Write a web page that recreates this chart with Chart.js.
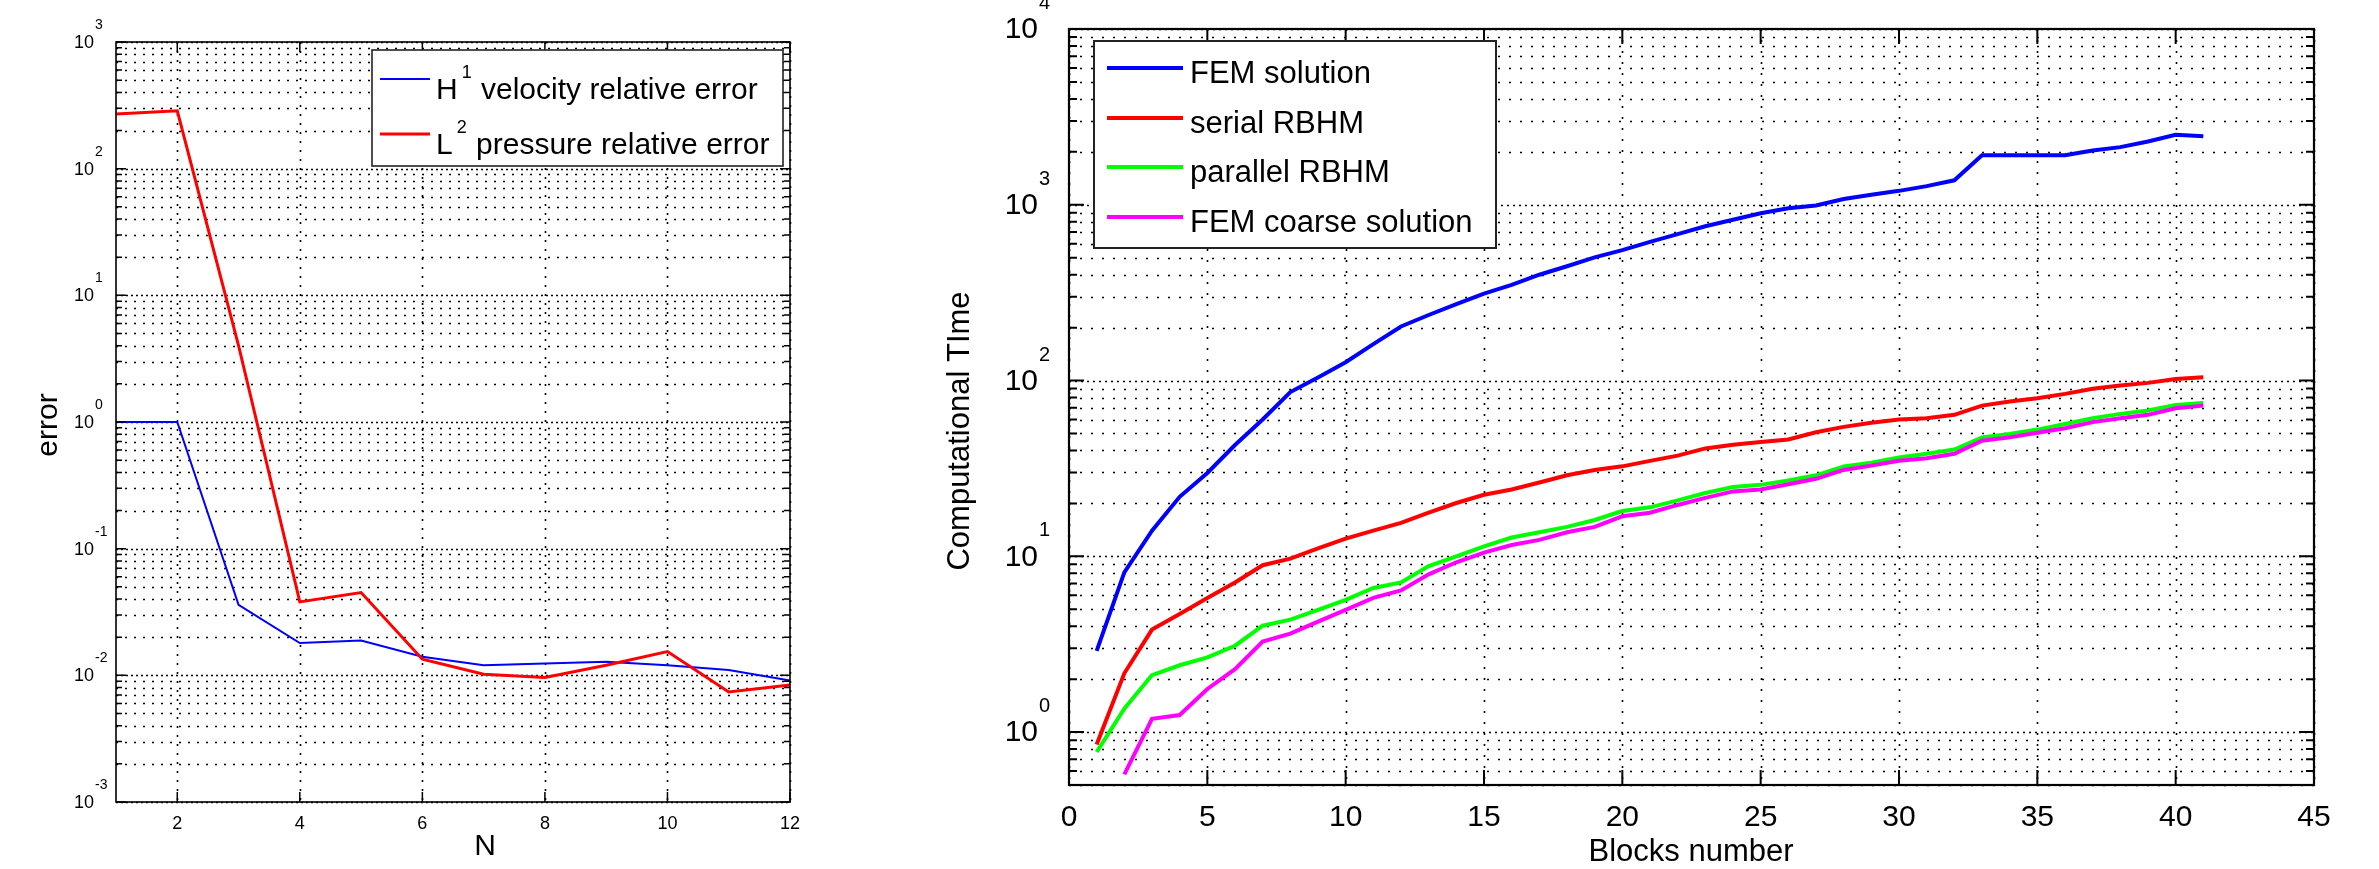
<!DOCTYPE html>
<html>
<head>
<meta charset="utf-8">
<script src="https://cdn.jsdelivr.net/npm/chart.js@4"></script>
<style>
  html, body { margin: 0; padding: 0; background: #fff; }
  body { width: 2379px; height: 869px; position: relative; overflow: hidden; }
  #errChart { position: absolute; left: 0; top: 0; }
  #timeChart { position: absolute; left: 880px; top: 0; }
</style>
</head>
<body>
<canvas id="errChart" width="860" height="869" style="width:860px;height:869px"></canvas>
<canvas id="timeChart" width="1499" height="869" style="width:1499px;height:869px"></canvas>
<script>
// grafica izquierda: error frente a N
const nValues = [1, 2, 3, 4, 5, 6, 7, 8, 9, 10, 11, 12];
const velocityError = [1.0, 1.0, 0.036, 0.018, 0.0188, 0.014, 0.012, 0.0124, 0.0128, 0.012, 0.011, 0.0091];
const pressureError = [270, 286, 4.0, 0.038, 0.045, 0.0134, 0.0102, 0.0096, 0.012, 0.0154, 0.0074, 0.0084];
const nTicks = [2, 4, 6, 8, 10, 12];
const errExponents = [-3, -2, -1, 0, 1, 2, 3];
const errLegend = [['H', '1', 'velocity relative error'], ['L', '2', 'pressure relative error']];

// grafica derecha: tiempo de calculo frente a numero de bloques
const blocks = [1, 2, 3, 4, 5, 6, 7, 8, 9, 10, 11, 12, 13, 14, 15, 16, 17, 18, 19, 20,
  21, 22, 23, 24, 25, 26, 27, 28, 29, 30, 31, 32, 33, 34, 35, 36, 37, 38, 39, 40, 41];
const femTime = [2.9, 8.1, 14, 21.8, 29.8, 43, 60, 86, 104, 127, 161, 203, 236, 272, 312, 350, 400, 447, 502, 552,
  615, 681, 755, 822, 894, 955, 991, 1079, 1140, 1200, 1277, 1378, 1910, 1910, 1910, 1915, 2037, 2128, 2293, 2500, 2450];
const serialTime = [0.85, 2.16, 3.83, 4.7, 5.8, 7.1, 8.9, 9.7, 11.1, 12.6, 14.0, 15.5, 17.7, 20.1, 22.4, 24, 26.3, 28.9, 31, 32.5,
  34.9, 37.4, 41.1, 43.1, 44.7, 46.2, 50.8, 54.5, 57.6, 60, 61, 63.8, 72, 75.9, 79.4, 84, 89.7, 93.7, 97, 102, 104.5];
const parallelTime = [0.77, 1.36, 2.11, 2.4, 2.66, 3.1, 4.03, 4.36, 4.96, 5.65, 6.6, 7.1, 8.8, 10.0, 11.4, 12.8, 13.7, 14.7, 16.1, 18.1,
  19, 20.8, 22.9, 24.8, 25.5, 27, 28.9, 32.5, 34.1, 36.5, 38.3, 40.5, 47.5, 49.7, 52.6, 56.6, 61, 64.6, 67.5, 72.6, 74.6];
const coarseTime = [null, 0.575, 1.19, 1.25, 1.76, 2.28, 3.27, 3.63, 4.25, 4.96, 5.8, 6.4, 7.9, 9.25, 10.5, 11.6, 12.4, 13.7, 14.7, 16.9,
  17.7, 19.6, 21.5, 23.4, 24, 25.7, 27.6, 31, 32.8, 35, 36.1, 38.3, 45.5, 47.5, 50.4, 53.5, 58, 61, 63.8, 69.5, 72];
const blockTicks = [0, 5, 10, 15, 20, 25, 30, 35, 40, 45];
const timeExponents = [0, 1, 2, 3, 4];
const timeLegend = ['FEM solution', 'serial RBHM', 'parallel RBHM', 'FEM coarse solution'];

const FONT = "'Liberation Sans', Arial, sans-serif";

function toPoints(xs, ys) {
  return xs.map((x, i) => ({ x: x, y: ys[i] }));
}

// ticks 1..9 x 10^e dentro del rango del eje
function logTicks(exps, min, max) {
  const out = [];
  for (let e = exps[0] - 1; e <= exps[exps.length - 1]; e++) {
    for (let m = 1; m <= 9; m++) {
      const v = m * Math.pow(10, e);
      if (v >= min * 0.999 && v <= max * 1.001) out.push({ value: v, major: m === 1, exp: e });
    }
  }
  return out;
}

// ejes estilo matlab: rejilla punteada, caja, ticks hacia dentro, etiquetas 10^n
const matlabAxes = {
  id: 'matlabAxes',
  beforeDatasetsDraw(chart, args, o) {
    const { ctx, chartArea: a, scales: { x, y } } = chart;
    ctx.save();
    ctx.strokeStyle = '#000';
    ctx.lineWidth = 1.6;
    logTicks(o.yExps, y.min, y.max).forEach((t) => {
      const py = Math.round(y.getPixelForValue(t.value)) + 0.5;
      ctx.setLineDash(t.major ? o.majorDash : o.dash);
      ctx.beginPath();
      ctx.moveTo(a.left, py);
      ctx.lineTo(a.right, py);
      ctx.stroke();
    });
    ctx.setLineDash(o.dash);
    o.xTicks.forEach((v) => {
      const px = Math.round(x.getPixelForValue(v)) + 0.5;
      ctx.beginPath();
      ctx.moveTo(px, a.top);
      ctx.lineTo(px, a.bottom);
      ctx.stroke();
    });
    ctx.restore();
  },
  afterDatasetsDraw(chart, args, o) {
    const { ctx, chartArea: a, scales: { x, y } } = chart;
    ctx.save();
    ctx.setLineDash([]);
    ctx.strokeStyle = '#000';
    ctx.fillStyle = '#000';

    // ticks
    ctx.lineWidth = o.tickWidth;
    const yt = logTicks(o.yExps, y.min, y.max);
    yt.forEach((t) => {
      const py = y.getPixelForValue(t.value);
      const len = t.major ? o.majorLen : o.minorLen;
      ctx.beginPath();
      ctx.moveTo(a.left, py); ctx.lineTo(a.left + len, py);
      ctx.moveTo(a.right, py); ctx.lineTo(a.right - len, py);
      ctx.stroke();
    });
    o.xTicks.forEach((v) => {
      const px = x.getPixelForValue(v);
      ctx.beginPath();
      ctx.moveTo(px, a.bottom); ctx.lineTo(px, a.bottom - o.majorLen);
      ctx.moveTo(px, a.top); ctx.lineTo(px, a.top + o.majorLen);
      ctx.stroke();
    });

    // caja
    ctx.lineWidth = o.boxWidth;
    ctx.strokeRect(a.left, a.top, a.right - a.left, a.bottom - a.top);

    // etiquetas del eje y: 10 con exponente
    yt.filter((t) => t.major && o.yExps.includes(t.exp)).forEach((t) => {
      const py = y.getPixelForValue(t.value);
      ctx.font = o.tickSize + 'px ' + FONT;
      ctx.textAlign = 'right';
      ctx.textBaseline = 'middle';
      ctx.fillText('10', a.left - o.labelGap, py + 1);
      ctx.font = o.expSize + 'px ' + FONT;
      ctx.textAlign = 'left';
      ctx.textBaseline = 'alphabetic';
      ctx.fillText(String(t.exp), a.left - o.labelGap + 1, py - o.expRise);
    });

    // etiquetas del eje x
    ctx.font = o.tickSize + 'px ' + FONT;
    ctx.textAlign = 'center';
    ctx.textBaseline = 'middle';
    o.xTicks.forEach((v) => {
      ctx.fillText(String(v), x.getPixelForValue(v), o.xLabelY);
    });

    // titulos
    ctx.font = o.titleSize + 'px ' + FONT;
    ctx.fillText(o.xTitle, o.xTitleX, o.xTitleY);
    ctx.save();
    ctx.translate(o.yTitleX, o.yTitleY);
    ctx.rotate(-Math.PI / 2);
    ctx.fillText(o.yTitle, 0, 0);
    ctx.restore();

    // leyenda
    const L = o.legend;
    ctx.fillStyle = '#fff';
    ctx.fillRect(L.box[0], L.box[1], L.box[2] - L.box[0], L.box[3] - L.box[1]);
    ctx.strokeStyle = '#222';
    ctx.lineWidth = L.border;
    ctx.strokeRect(L.box[0], L.box[1], L.box[2] - L.box[0], L.box[3] - L.box[1]);
    chart.data.datasets.forEach((ds, i) => {
      const ly = L.rows[i];
      ctx.strokeStyle = ds.borderColor;
      ctx.lineWidth = L.lineWidth || ds.borderWidth;
      ctx.beginPath();
      ctx.moveTo(L.sample[0], ly);
      ctx.lineTo(L.sample[1], ly);
      ctx.stroke();
      ctx.fillStyle = '#000';
      ctx.textAlign = 'left';
      ctx.textBaseline = 'alphabetic';
      ctx.font = L.fontSize + 'px ' + FONT;
      const item = L.items[i];
      if (Array.isArray(item)) {
        let tx = L.textX;
        ctx.fillText(item[0], tx, ly + L.baseDy);
        tx += ctx.measureText(item[0]).width + 4;
        ctx.font = L.supSize + 'px ' + FONT;
        ctx.fillText(item[1], tx, ly + L.supDy);
        tx += ctx.measureText(item[1]).width;
        ctx.font = L.fontSize + 'px ' + FONT;
        ctx.fillText(' ' + item[2], tx + 1, ly + L.baseDy);
      } else {
        ctx.fillText(item, L.textX, ly + L.baseDy);
      }
    });
    ctx.restore();
  }
};

function lineSet(label, pts, color, width, order) {
  return {
    label: label,
    data: pts,
    borderColor: color,
    backgroundColor: color,
    borderWidth: width,
    pointRadius: 0,
    tension: 0,
    fill: false,
    spanGaps: false,
    order: order
  };
}

// primera grafica
new Chart(document.querySelector('#errChart'), {
  type: 'line',
  data: {
    datasets: [
      lineSet('H1 velocity relative error', toPoints(nValues, velocityError), 'rgb(0, 0, 255)', 2, 2),
      lineSet('L2 pressure relative error', toPoints(nValues, pressureError), 'rgb(255, 0, 0)', 3, 1)
    ]
  },
  options: {
    responsive: false,
    animation: false,
    layout: { padding: { left: 116, right: 70, top: 42, bottom: 67 } },
    scales: {
      x: { type: 'linear', min: 1, max: 12, display: false },
      y: { type: 'logarithmic', min: 0.001, max: 1000, display: false }
    },
    plugins: {
      legend: { display: false },
      tooltip: { enabled: false },
      matlabAxes: {
        yExps: errExponents,
        xTicks: nTicks,
        dash: [2, 7],
        majorDash: [2, 3],
        tickWidth: 1.5,
        majorLen: 10,
        minorLen: 6,
        boxWidth: 1.6,
        tickSize: 18,
        expSize: 14,
        labelGap: 22,
        expRise: 13,
        xLabelY: 824,
        titleSize: 30,
        xTitle: 'N',
        xTitleX: 485,
        xTitleY: 847,
        yTitle: 'error',
        yTitleX: 49,
        yTitleY: 425,
        legend: {
          box: [372, 50, 783, 166],
          border: 1.6,
          rows: [79, 134],
          sample: [380, 430],
          textX: 436,
          fontSize: 30,
          supSize: 18,
          baseDy: 20,
          supDy: -1,
          items: errLegend
        }
      }
    }
  },
  plugins: [matlabAxes]
});

// segunda grafica
new Chart(document.querySelector('#timeChart'), {
  type: 'line',
  data: {
    datasets: [
      lineSet(timeLegend[0], toPoints(blocks, femTime), 'rgb(0, 0, 255)', 4, 4),
      lineSet(timeLegend[1], toPoints(blocks, serialTime), 'rgb(255, 0, 0)', 4, 3),
      lineSet(timeLegend[2], toPoints(blocks, parallelTime), 'rgb(0, 255, 0)', 4, 2),
      lineSet(timeLegend[3], toPoints(blocks, coarseTime), 'rgb(255, 0, 255)', 4, 1)
    ]
  },
  options: {
    responsive: false,
    animation: false,
    layout: { padding: { left: 189, right: 65, top: 29, bottom: 84 } },
    scales: {
      x: { type: 'linear', min: 0, max: 45, display: false },
      y: { type: 'logarithmic', min: 0.5, max: 10000, display: false }
    },
    plugins: {
      legend: { display: false },
      tooltip: { enabled: false },
      matlabAxes: {
        yExps: timeExponents,
        xTicks: blockTicks,
        dash: [2, 9],
        majorDash: [2, 4],
        tickWidth: 2,
        majorLen: 15,
        minorLen: 8,
        boxWidth: 2.2,
        tickSize: 30,
        expSize: 20,
        labelGap: 31,
        expRise: 20,
        xLabelY: 818,
        titleSize: 31,
        xTitle: 'Blocks number',
        xTitleX: 811,
        xTitleY: 852,
        yTitle: 'Computational TIme',
        yTitleX: 80,
        yTitleY: 431,
        legend: {
          box: [214, 41, 616, 248],
          border: 2,
          rows: [68, 118, 167, 217],
          sample: [227, 303],
          lineWidth: 4,
          textX: 310,
          fontSize: 31,
          baseDy: 15,
          items: timeLegend
        }
      }
    }
  },
  plugins: [matlabAxes]
});
</script>
</body>
</html>
